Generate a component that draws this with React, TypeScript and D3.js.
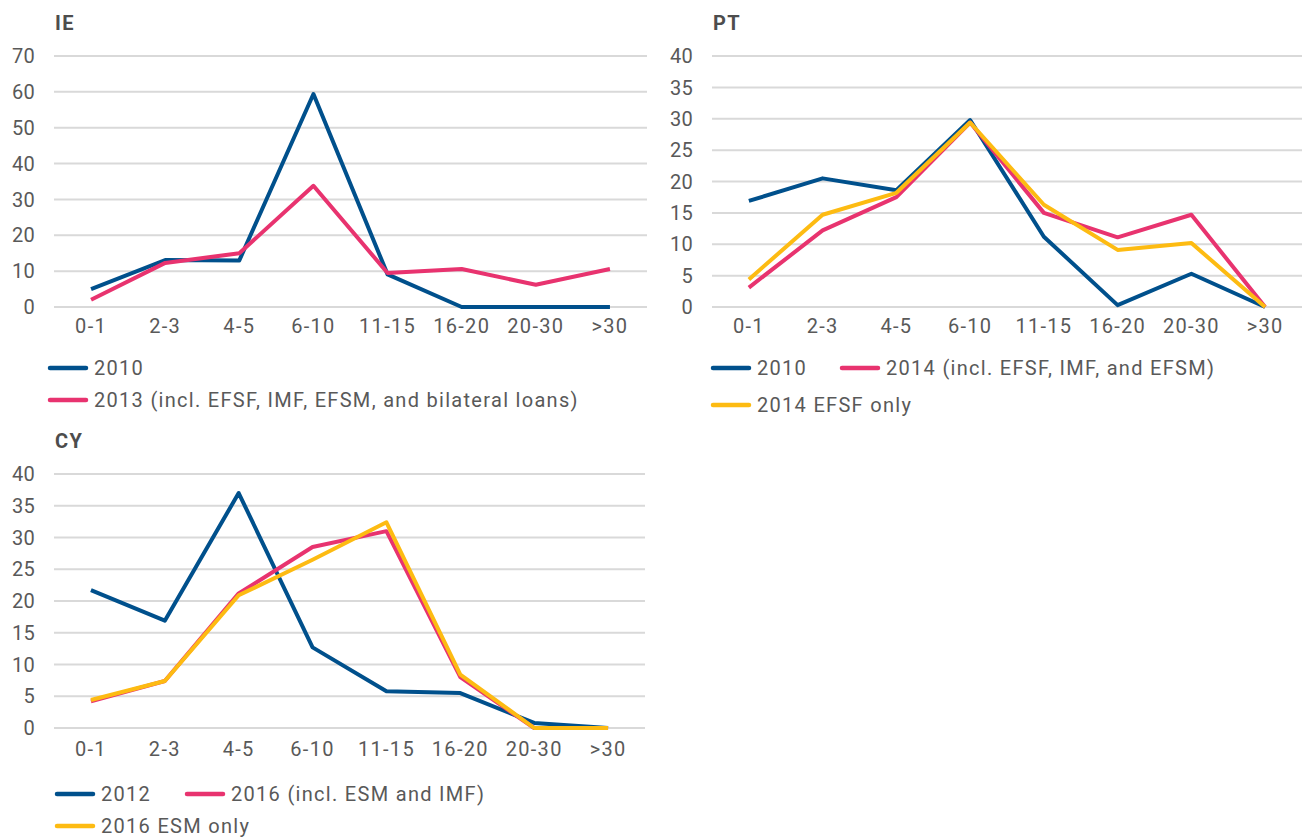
import React from 'react'
import * as d3 from 'd3'

// maturity buckets (years)
const buckets = ['0-1', '2-3', '4-5', '6-10', '11-15', '16-20', '20-30', '>30']

// IE
const ie2010 = [5, 13.1, 13, 59.4, 9.1, 0, 0, 0]
const ie2013 = [2, 12.3, 15, 33.8, 9.5, 10.6, 6.2, 10.6]
const ieTicks = [0, 10, 20, 30, 40, 50, 60, 70]

// PT
const pt2010 = [16.9, 20.5, 18.6, 29.8, 11.2, 0.3, 5.3, 0]
const pt2014 = [3.1, 12.2, 17.5, 29.4, 15, 11.1, 14.7, 0]
const pt2014Efsf = [4.4, 14.7, 18.2, 29.4, 16.3, 9.1, 10.2, 0]
const ptTicks = [0, 5, 10, 15, 20, 25, 30, 35, 40]

// CY
const cy2012 = [21.7, 16.9, 37, 12.7, 5.8, 5.5, 0.8, 0]
const cy2016 = [4.2, 7.4, 21.2, 28.5, 31, 8, 0, 0]
const cy2016Esm = [4.4, 7.4, 20.9, 26.5, 32.4, 8.4, 0, 0]
const cyTicks = [0, 5, 10, 15, 20, 25, 30, 35, 40]

const BLUE = '#00508c'
const PINK = '#e8336f'
const YELLOW = '#fdbb12'
const TEXT = '#595959'
const FONT = 'Roboto, "Noto Sans", sans-serif'
const SPACING = 1.3

interface Series {
  name: string
  values: number[]
  color: string
}

interface LegendItem {
  label: string
  color: string
  x: number
  y: number
}

interface PanelProps {
  title: string
  x0: number
  x1: number
  yTop: number
  yBottom: number
  ticks: number[]
  series: Series[]
  legend: LegendItem[]
  labelGap: number
}

function Panel({ title, x0, x1, yTop, yBottom, ticks, series, legend, labelGap }: PanelProps) {
  const x = d3.scaleBand<string>().domain(buckets).range([x0, x1])
  const y = d3.scaleLinear().domain([0, d3.max(ticks) as number]).range([yBottom, yTop])
  const line = d3.line<number>()
    .x((_, i) => (x(buckets[i]) as number) + x.bandwidth() / 2)
    .y(d => y(d))

  return (
    <g fontFamily={FONT} letterSpacing={SPACING}>
      <text x={x0 + 1} y={yTop - 26} fontSize={20} fontWeight={700} fill="#4d4d4d">{title}</text>
      {ticks.map(t => (
        <g key={t}>
          <line x1={x0} x2={x1} y1={y(t)} y2={y(t)} stroke="#d9d9d9" strokeWidth={2} />
          <text x={x0 - 19} y={y(t)} dy="0.36em" textAnchor="end" fontSize={20} fill={TEXT}
            letterSpacing={0.3}>{t}</text>
        </g>
      ))}
      {buckets.map(b => (
        <text key={b} x={(x(b) as number) + x.bandwidth() / 2} y={yBottom + labelGap}
          textAnchor="middle" fontSize={20} fill={TEXT}>{b}</text>
      ))}
      {series.map(s => (
        <path key={s.name} d={line(s.values) as string} fill="none" stroke={s.color}
          strokeWidth={4} strokeLinejoin="round" />
      ))}
      {legend.map(l => (
        <g key={l.label}>
          <line x1={l.x} x2={l.x + 36} y1={l.y} y2={l.y} stroke={l.color} strokeWidth={4.5} strokeLinecap="round" />
          <text x={l.x + 44} y={l.y} dy="0.36em" fontSize={20} fill={TEXT}>{l.label}</text>
        </g>
      ))}
    </g>
  )
}

export default function App() {
  return (
    <svg width={1306} height={837} style={{ position: 'absolute', left: 0, top: 0, background: '#fff' }}>
      <Panel
        title="IE" x0={54} x1={647} yTop={56} yBottom={307} ticks={ieTicks} labelGap={26}
        series={[
          { name: '2010', values: ie2010, color: BLUE },
          { name: '2013', values: ie2013, color: PINK },
        ]}
        legend={[
          { label: '2010', color: BLUE, x: 50, y: 368 },
          { label: '2013 (incl. EFSF, IMF, EFSM, and bilateral loans)', color: PINK, x: 50, y: 400 },
        ]}
      />
      <Panel
        title="PT" x0={712} x1={1302} yTop={56} yBottom={307} ticks={ptTicks} labelGap={26}
        series={[
          { name: '2010', values: pt2010, color: BLUE },
          { name: '2014', values: pt2014, color: PINK },
          { name: '2014 EFSF', values: pt2014Efsf, color: YELLOW },
        ]}
        legend={[
          { label: '2010', color: BLUE, x: 713, y: 368 },
          { label: '2014 (incl. EFSF, IMF, and EFSM)', color: PINK, x: 842, y: 368 },
          { label: '2014 EFSF only', color: YELLOW, x: 713, y: 405 },
        ]}
      />
      <Panel
        title="CY" x0={54} x1={645} yTop={474} yBottom={728} ticks={cyTicks} labelGap={28}
        series={[
          { name: '2012', values: cy2012, color: BLUE },
          { name: '2016', values: cy2016, color: PINK },
          { name: '2016 ESM', values: cy2016Esm, color: YELLOW },
        ]}
        legend={[
          { label: '2012', color: BLUE, x: 57, y: 794 },
          { label: '2016 (incl. ESM and IMF)', color: PINK, x: 187, y: 794 },
          { label: '2016 ESM only', color: YELLOW, x: 57, y: 826 },
        ]}
      />
    </svg>
  )
}
